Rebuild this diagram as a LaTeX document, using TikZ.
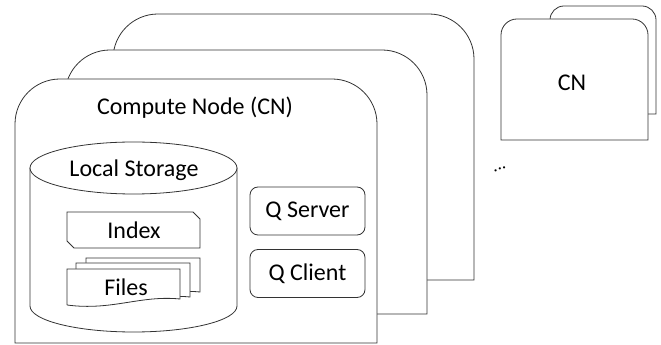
\documentclass[tikz,border=0pt]{standalone}
\usepackage{fontspec}
\setmainfont{Carlito}
\tikzset{
  frame/.style={draw=black!80, line width=0.8pt, fill=white},
  lbl/.style={font=\fontsize{24}{28}\selectfont, text=black},
  qbox/.style={frame, rounded corners=8pt, minimum width=115pt, minimum height=48pt, lbl}
}
% box with rounded top corners: left, bottom, right, top, radius
\newcommand{\cnframe}[5]{%
  \draw[frame] (#1,#2) -- (#1,#4-#5) arc[start angle=180,end angle=90,radius=#5]
    -- (#3-#5,#4) arc[start angle=90,end angle=0,radius=#5] -- (#3,#2) -- cycle;}
% document with wavy bottom: left, top, right, bottom
\newcommand{\docshape}[4]{%
  \draw[frame] (#1,#4) -- (#1,#2) -- (#3,#2) -- (#3,#4+6)
    .. controls (#3-40,#4+10) and (#1+45,#4-6) .. (#1,#4);}
\begin{document}
\begin{tikzpicture}[x=1pt,y=1pt]
        \useasboundingbox (0,0) rectangle (661,345);

        % stacked compute nodes
        \cnframe{113}{65}{474}{331}{45}
        \cnframe{65}{31}{427}{295}{45}
        \cnframe{15}{2}{377}{266}{45}
        \node[lbl] (cntitle) at (195,237) {Compute Node (CN)};

        % the other nodes
        \cnframe{550}{231}{656}{339}{14}
        \cnframe{501}{205}{648}{326}{16}
        \node[lbl] (cnsmall) at (572,262) {CN};
        \node[font=\fontsize{18}{20}\selectfont, rotate=20] (dots) at (500,176) {...};

        % local storage
        \draw[frame] (30,177) -- (30,39) arc[start angle=180,end angle=360,x radius=103.5,y radius=26] -- (237,177);
        \draw[frame] (133.5,177) ellipse[x radius=103.5,y radius=26];
        \node[lbl] (storage) at (134,175) {Local Storage};

        \draw[frame] (67,104) -- (67,133) -- (193,133) -- (200,126) -- (200,97) -- (74,97) -- cycle;
        \node[lbl] (index) at (134,115) {Index};

        \docshape{86}{87}{200}{47}
        \docshape{76}{82}{190}{42}
        \docshape{67}{76}{180}{40}
        \node[lbl] (files) at (126,58) {Files};

        % queue
        \node[qbox] (qserver) at (307.5,134) {Q Server};
        \node[qbox] (qclient) at (307.5,71.5) {Q Client};
\end{tikzpicture}
\end{document}
